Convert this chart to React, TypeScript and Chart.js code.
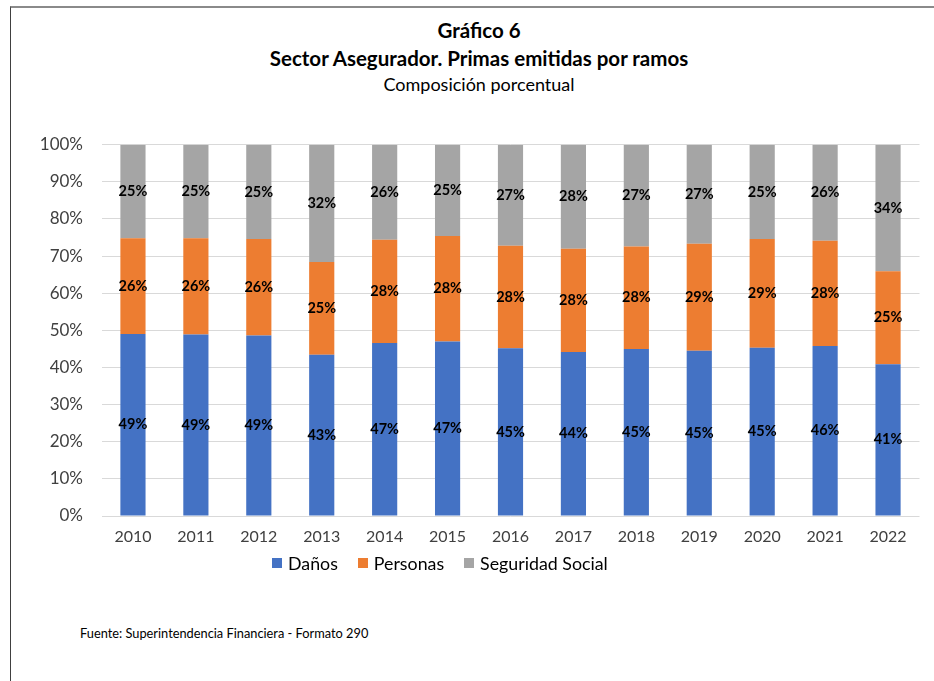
import React, { useEffect, useRef } from "react";
import { Chart, registerables } from "chart.js";

Chart.register(...registerables);

const categories = ["2010", "2011", "2012", "2013", "2014", "2015", "2016", "2017", "2018", "2019", "2020", "2021", "2022"];
const danos = [49.0, 48.9, 48.6, 43.4, 46.6, 47.0, 45.2, 44.2, 45.0, 44.5, 45.3, 45.8, 40.9];
const personas = [25.8, 25.9, 26.0, 25.0, 27.8, 28.4, 27.6, 27.8, 27.6, 28.8, 29.3, 28.3, 25.0];
const seguridadSocial = [25.2, 25.2, 25.4, 31.6, 25.6, 24.6, 27.2, 28.0, 27.4, 26.7, 25.4, 25.9, 34.1];
const seriesNames = ["Daños", "Personas", "Seguridad Social"];
const seriesColors = ["#4472C4", "#ED7D31", "#A5A5A5"];
const yTicks = [0, 10, 20, 30, 40, 50, 60, 70, 80, 90, 100];

const FONT = "Lato, 'Open Sans', sans-serif";

const labelPlugin = {
  id: "segLabels",
  afterDatasetsDraw(chart: any) {
    const ctx = chart.ctx;
    ctx.save();
    ctx.font = `bold 14.5px ${FONT}`;
    ctx.fillStyle = "#000";
    ctx.textAlign = "center";
    ctx.textBaseline = "middle";
    chart.data.datasets.forEach((ds: any, i: number) => {
      const meta = chart.getDatasetMeta(i);
      meta.data.forEach((el: any, j: number) => {
        const v = ds.data[j];
        const y = (el.y + el.base) / 2;
        ctx.fillText(Math.round(v) + "%", el.x, y);
      });
    });
    ctx.restore();
  },
};

export default function App() {
  const ref = useRef<HTMLCanvasElement>(null);
  useEffect(() => {
    const chart = new Chart(ref.current!, {
      type: "bar",
      data: {
        labels: categories,
        datasets: [danos, personas, seguridadSocial].map((d, i) => ({
          label: seriesNames[i],
          data: d,
          backgroundColor: seriesColors[i],
          borderWidth: 0,
          barPercentage: 0.4,
          categoryPercentage: 1,
        })),
      },
      options: {
        responsive: false,
        animation: false,
        layout: { padding: { left: 0, right: 14.5, top: 14, bottom: 0 } },
        plugins: { legend: { display: false }, title: { display: false }, tooltip: { enabled: false } },
        scales: {
          x: {
            stacked: true,
            grid: { display: false },
            border: { display: false },
            ticks: { color: "#404040", font: { family: FONT, size: 16 }, padding: 3 },
            afterFit: (s: any) => { s.height = 44; },
          },
          y: {
            stacked: true,
            min: 0,
            max: 100,
            afterBuildTicks: (s: any) => { s.ticks = yTicks.map((v) => ({ value: v })); },
            grid: { color: "#D9D9D9", lineWidth: 1, drawTicks: false },
            border: { display: false },
            ticks: { color: "#404040", font: { family: FONT, size: 17 }, padding: 18.5, callback: (v: any) => v + "%" },
            afterFit: (s: any) => { s.width = 101.5; },
          },
        },
      },
      plugins: [labelPlugin],
    });
    return () => chart.destroy();
  }, []);

  const abs: React.CSSProperties = { position: "absolute" };
  return (
    <div style={{ ...abs, left: 0, top: 0, width: 934, height: 681, overflow: "hidden", background: "#fff", fontFamily: FONT, color: "#000" }}>
      <div style={{ ...abs, left: 10, top: 6, width: 1000, height: 1000, borderLeft: "1.5px solid #404040", borderTop: "2px solid #8a8a8a" }} />
      <div style={{ ...abs, left: 179, width: 600, top: 16, textAlign: "center", fontWeight: "bold", fontSize: 20.5, lineHeight: "28px" }}>
        <div>Gráfico 6</div>
        <div>Sector Asegurador. Primas emitidas por ramos</div>
      </div>
      <div style={{ ...abs, left: 179, width: 600, top: 73, textAlign: "center", fontSize: 18, lineHeight: "22px" }}>Composición porcentual</div>
      <canvas ref={ref} width={934} height={444} style={{ ...abs, left: 0, top: 116, width: 934, height: 444 }} />
      <div style={{ ...abs, left: 272, top: 551, display: "flex", alignItems: "center", fontSize: 17.8, lineHeight: "24px", color: "#000" }}>
        {seriesNames.map((n, i) => (
          <div key={n} style={{ display: "flex", alignItems: "center", marginRight: 20 }}>
            <span style={{ display: "inline-block", width: 10, height: 10, background: seriesColors[i], marginRight: 6 }} />
            <span>{n}</span>
          </div>
        ))}
      </div>
      <div style={{ ...abs, left: 80, top: 625, fontSize: 12.8, lineHeight: "16px", color: "#000" }}>Fuente: Superintendencia Financiera - Formato 290</div>
    </div>
  );
}
